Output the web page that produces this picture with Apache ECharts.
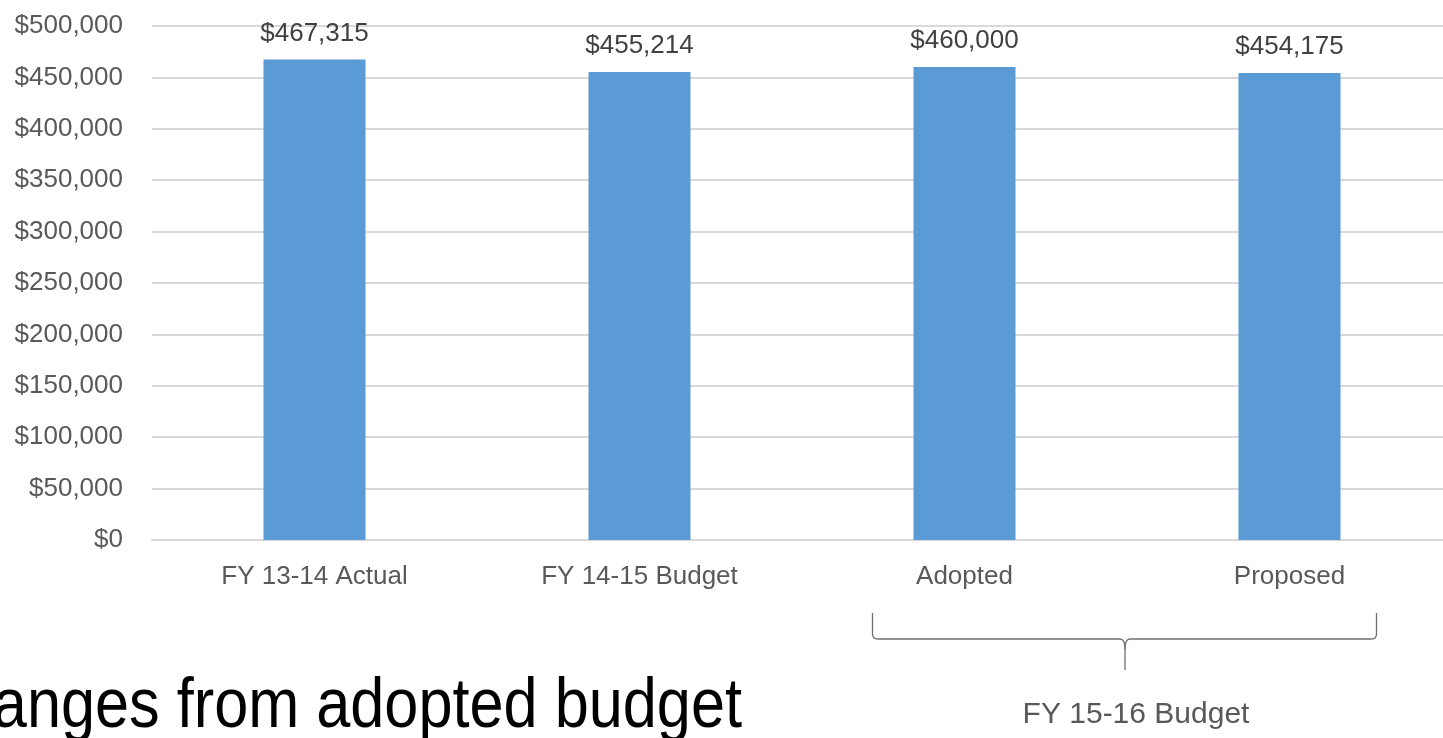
<!DOCTYPE html>
<html>
<head>
<meta charset="utf-8">
<script src="https://cdn.jsdelivr.net/npm/echarts@6/dist/echarts.min.js"></script>
<style>
  html, body { margin: 0; padding: 0; background: #fff; overflow: hidden; }
  #chart { width: 1443px; height: 738px; }
</style>
</head>
<body>
<div id="chart"></div>
<script>
// Budget by fiscal year
const categories = ['FY 13-14 Actual', 'FY 14-15 Budget', 'Adopted', 'Proposed'];
const amounts = [467315, 455214, 460000, 454175];
const groupLabel = 'FY 15-16 Budget';
const headline = 'Changes from adopted budget';

const FONT = '"Liberation Sans", Arial, sans-serif';
const fmt = v => '$' + Math.round(v).toLocaleString('en-US');

const chart = echarts.init(document.getElementById('chart'));

chart.setOption({
  animation: false,
  backgroundColor: '#ffffff',
  grid: {
    left: 152, top: 26, width: 1300, height: 514,
    containLabel: false, outerBoundsMode: 'none'
  },
  xAxis: {
    type: 'category',
    data: categories,
    axisLine: { show: true, lineStyle: { color: '#d9d9d9', width: 2 } },
    axisTick: { show: false },
    axisLabel: { color: '#595959', fontFamily: FONT, fontSize: 26, margin: 24 }
  },
  yAxis: {
    type: 'value',
    min: 0,
    max: 500000,
    interval: 50000,
    axisLine: { show: false },
    axisTick: { show: false },
    splitLine: { lineStyle: { color: '#d9d9d9', width: 2 } },
    axisLabel: { color: '#595959', fontFamily: FONT, fontSize: 26, margin: 29, formatter: fmt }
  },
  series: [{
    type: 'bar',
    data: amounts,
    barWidth: 102,
    itemStyle: { color: '#5b9bd5' },
    label: {
      show: true,
      position: 'top',
      distance: 13,
      color: '#404040',
      fontFamily: FONT,
      fontSize: 26,
      formatter: p => fmt(p.value)
    }
  }]
});

// Brace grouping the last two categories, plus the group caption and headline
function drawAnnotations() {
  const a = chart.convertToPixel({ xAxisIndex: 0 }, categories[2]);
  const b = chart.convertToPixel({ xAxisIndex: 0 }, categories[3]);
  const x0 = a - 92, x1 = b + 87, mid = Math.round((x0 + x1) / 2);
  const yTop = 613, yLine = 639, yTip = 670, r = 5;
  const stroke = { stroke: '#6e6e6e', lineWidth: 1.3, fill: null };
  const seg = (p, q) => ({ type: 'line', shape: { x1: p[0], y1: p[1], x2: q[0], y2: q[1] }, style: stroke });
  const curve = (p, c, q) => ({
    type: 'bezierCurve',
    shape: { x1: p[0], y1: p[1], cpx1: c[0], cpy1: c[1], x2: q[0], y2: q[1] },
    style: stroke
  });
  chart.setOption({
    graphic: [
      seg([x0, yTop], [x0, yLine - r]),
      curve([x0, yLine - r], [x0, yLine], [x0 + r, yLine]),
      seg([x0 + r, yLine], [mid - r, yLine]),
      curve([mid - r, yLine], [mid, yLine], [mid, yLine + 2 * r]),
      curve([mid + r, yLine], [mid, yLine], [mid, yLine + 2 * r]),
      seg([mid, yLine + 2 * r], [mid, yTip]),
      seg([mid + r, yLine], [x1 - r, yLine]),
      curve([x1 - r, yLine], [x1, yLine], [x1, yLine - r]),
      seg([x1, yLine - r], [x1, yTop]),
      {
        type: 'text',
        x: mid + 11, y: 715,
        style: {
          text: groupLabel, fill: '#595959',
          fontSize: 30, fontFamily: FONT, fontWeight: 'normal',
          align: 'center', verticalAlign: 'middle'
        }
      },
      {
        type: 'text',
        x: 742, y: 708,
        scaleX: 0.875,
        style: {
          text: headline, fill: '#000000',
          fontSize: 70, fontFamily: FONT, fontWeight: 'normal',
          align: 'right', verticalAlign: 'middle'
        }
      }
    ]
  });
}
drawAnnotations();
</script>
</body>
</html>
